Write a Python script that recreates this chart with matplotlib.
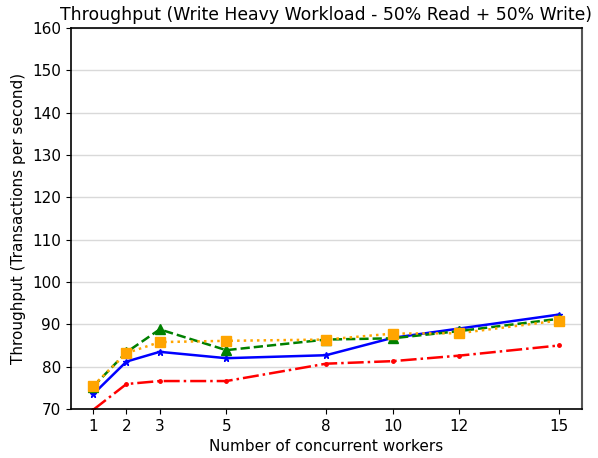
import numpy as np
import matplotlib
matplotlib.use("Agg")
import matplotlib.pyplot as plt

workers = [1, 2, 3, 5, 8, 10, 12, 15]
blue_vals = [73.5, 81.2, 83.5, 82.0, 82.7, 86.8, 89.0, 92.3]
red_vals = [69.8, 75.9, 76.6, 76.6, 80.7, 81.3, 82.6, 85.0]
green_vals = [75.3, 83.4, 88.8, 83.9, 86.4, 86.7, 88.4, 91.3]
orange_vals = [75.5, 83.2, 85.8, 86.1, 86.4, 87.8, 87.9, 90.9]

fig = plt.figure(figsize=(5.98, 4.58), dpi=100)
ax = fig.add_axes([0.118, 0.107, 0.855, 0.832])

ax.plot(workers, blue_vals, color='blue', linestyle='-', marker='*', markersize=5, linewidth=1.8)
ax.plot(workers, red_vals, color='red', linestyle='-.', marker='.', markersize=5, linewidth=1.8)
ax.plot(workers, green_vals, color='green', linestyle='--', marker='^', markersize=7, linewidth=1.8)
ax.plot(workers, orange_vals, color='orange', linestyle=':', marker='s', markersize=7, linewidth=1.8)

ax.set_xlim(0.32, 15.69)
ax.set_ylim(70, 160)
ax.set_xticks(workers)
ax.set_yticks(np.arange(70, 161, 10))
ax.tick_params(labelsize=11)
ax.grid(axis='y', color='#d9d9d9', linewidth=1)
ax.set_axisbelow(True)
for side in ['left', 'bottom', 'top']:
    ax.spines[side].set_linewidth(1.2)
ax.spines['right'].set_color('#555555')
ax.spines['right'].set_linewidth(1.5)
ax.set_xlabel("Number of concurrent workers", fontsize=11)
ax.set_ylabel("Throughput (Transactions per second)", fontsize=11)
ax.set_title("Throughput (Write Heavy Workload - 50% Read + 50% Write)", fontsize=12.4)

plt.savefig("out.png")
